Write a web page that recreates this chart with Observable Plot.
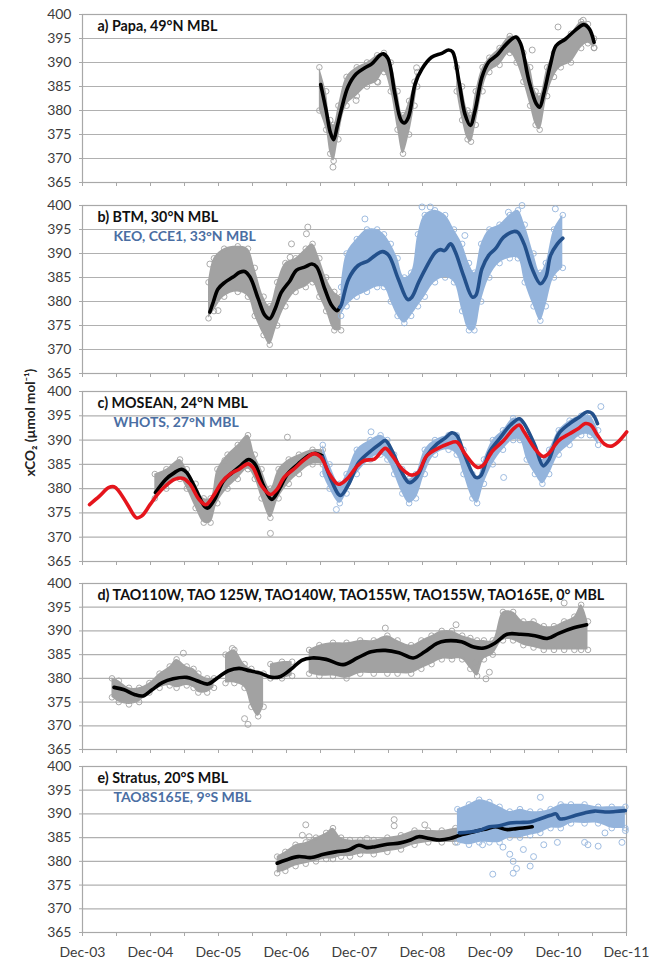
<!DOCTYPE html>
<html><head><meta charset="utf-8">
<script src="https://cdn.jsdelivr.net/npm/d3@7"></script>
<script src="https://cdn.jsdelivr.net/npm/@observablehq/plot@0.6"></script>
<style>body{margin:0;background:#fff;} #chart svg{display:block;}</style>
</head><body><div id="chart"></div>
<script>
// ---------- axis values ----------
const xStart = 2003 + 11 / 12;            // Dec-03
const xTickLabels = ["Dec-03","Dec-04","Dec-05","Dec-06","Dec-07","Dec-08","Dec-09","Dec-10","Dec-11"];
const yTicks = [365, 370, 375, 380, 385, 390, 395, 400];
const yLabelText = "xCO\u2082 (\u00b5mol mol\u207b\u00b9)";

// ---------- panel a: Papa ----------
const papaTitle = "a) Papa, 49\u00b0N MBL";
const papaLine = [[2007.42,385.4],[2007.50,380.0],[2007.56,375.5],[2007.61,373.9],[2007.66,376.5],[2007.72,380.0],[2007.82,384.9],[2007.94,387.6],[2008.07,388.9],[2008.17,389.7],[2008.29,391.5],[2008.34,391.8],[2008.41,390.8],[2008.51,383.5],[2008.60,378.0],[2008.65,377.4],[2008.71,378.6],[2008.81,385.6],[2008.91,388.7],[2009.05,391.1],[2009.20,391.9],[2009.30,392.6],[2009.36,392.2],[2009.45,386.3],[2009.54,379.3],[2009.62,376.9],[2009.69,380.0],[2009.79,386.9],[2009.89,390.1],[2010.01,391.5],[2010.11,393.2],[2010.23,394.9],[2010.29,395.3],[2010.36,393.9],[2010.48,386.3],[2010.59,381.4],[2010.64,380.7],[2010.70,383.5],[2010.80,389.7],[2010.88,393.5],[2011.02,394.9],[2011.17,396.8],[2011.29,397.9],[2011.37,397.0],[2011.44,394.2]];
const papaBands = [
  [[2007.40,380,389],[2007.50,376,384],[2007.56,371,378],[2007.61,369.5,377],[2007.68,374,381],[2007.80,381,387],[2007.95,383,389],[2008.10,385,390],[2008.25,386,391.5],[2008.35,388,392],[2008.45,384,390],[2008.55,376,384],[2008.63,371,379],[2008.72,375,382],[2008.80,381,386],[2008.84,385,388]],
  [[2009.42,384,389],[2009.50,378,385],[2009.58,374,380],[2009.63,373.5,379],[2009.70,377,384],[2009.80,384,389],[2009.90,388,391],[2010.05,389.5,393],[2010.20,392,395.5],[2010.30,390,395],[2010.40,386,392],[2010.50,381,389],[2010.58,377,384],[2010.64,376,383],[2010.75,383,389],[2010.85,387,392],[2010.95,389,394],[2011.10,390,396],[2011.25,393,398.5],[2011.35,394,398],[2011.44,393,395]]
];
const papaOutliers = [[2007.60,368.2],[2008.83,388.9],[2010.53,392.6],[2010.91,397.4],[2011.44,393.1],[2007.94,382.1],[2008.26,385.9],[2011.28,398.8]];

// ---------- panel b: BTM / KEO, CCE1 ----------
const btmTitle = "b) BTM, 30\u00b0N MBL";
const keoTitle = "KEO, CCE1, 33\u00b0N MBL";
const btmLine = [[2005.79,377.8],[2005.84,379.9],[2005.91,382.6],[2006.01,384.0],[2006.13,385.1],[2006.23,386.1],[2006.30,386.25],[2006.38,385.1],[2006.50,380.6],[2006.60,377.1],[2006.67,376.4],[2006.75,378.5],[2006.84,381.9],[2006.97,384.4],[2007.06,386.5],[2007.19,387.2],[2007.29,387.8],[2007.36,387.2],[2007.48,382.6],[2007.58,379.2],[2007.66,378.1],[2007.70,378.8]];
const keoLine = [[2007.70,378.8],[2007.72,379.2],[2007.83,384.7],[2007.97,387.5],[2008.12,388.5],[2008.22,389.6],[2008.33,390.4],[2008.42,389.6],[2008.56,384.7],[2008.70,380.4],[2008.76,380.9],[2008.86,384.0],[2008.96,386.8],[2009.11,390.3],[2009.18,390.8],[2009.24,390.6],[2009.33,392.0],[2009.40,390.3],[2009.52,385.4],[2009.65,380.9],[2009.70,381.25],[2009.79,386.8],[2009.89,389.6],[2009.99,391.0],[2010.11,393.4],[2010.26,394.6],[2010.32,394.4],[2010.41,392.0],[2010.53,386.8],[2010.65,383.7],[2010.73,385.1],[2010.80,389.6],[2010.90,392.0],[2010.98,393.2]];
const btmBand = [[2005.77,376.5,384],[2005.85,378,389],[2006.00,381,391],[2006.20,382,391.5],[2006.35,381,391],[2006.45,377,387],[2006.58,373,381],[2006.67,371,379],[2006.78,375,384],[2006.90,379,388],[2007.05,382,389],[2007.20,383,391],[2007.30,384,392],[2007.40,381,389],[2007.50,378,385],[2007.62,374,382],[2007.72,374,381]];
const keoBand = [[2007.72,377,383],[2007.80,379,390],[2007.95,381,393],[2008.10,382,395],[2008.25,383,395],[2008.35,383,394],[2008.45,380,392],[2008.55,377,389],[2008.65,375.5,385],[2008.75,377,386],[2008.85,379,394],[2008.95,381,398],[2009.10,384,399],[2009.25,385,398],[2009.38,384,395],[2009.50,378,392],[2009.60,374,388],[2009.68,374,386],[2009.78,380,392],[2009.90,385,395],[2010.05,388,396],[2010.20,389,398],[2010.32,389,399],[2010.42,384,396],[2010.55,379,390],[2010.65,376,386],[2010.73,379,388],[2010.85,385,395],[2010.98,387,398]];
const btmOutliers = [[2005.79,387.8],[2005.91,378.1],[2006.99,392.0],[2007.23,395.5],[2007.21,394.1],[2006.97,389.2]];
const keoOutliers = [[2008.91,399.7],[2009.03,399.7],[2010.38,400.0],[2010.87,399.3],[2010.18,398.6],[2008.07,397.2],[2009.54,393.75]];

// ---------- panel c: MOSEAN / WHOTS ----------
const moseanTitle = "c) MOSEAN, 24\u00b0N MBL";
const whotsTitle = "WHOTS, 27\u00b0N MBL";
const mblLine = [[2004.02,376.7],[2004.17,378.5],[2004.30,380.2],[2004.38,380.4],[2004.45,379.5],[2004.58,376.7],[2004.71,374.0],[2004.79,374.4],[2004.91,376.7],[2005.02,378.8],[2005.14,380.6],[2005.27,381.9],[2005.40,382.1],[2005.50,380.9],[2005.63,377.8],[2005.73,376.7],[2005.84,378.5],[2005.96,381.25],[2006.09,383.0],[2006.22,384.0],[2006.35,385.1],[2006.42,384.4],[2006.55,380.6],[2006.68,378.8],[2006.78,379.9],[2006.88,382.3],[2007.04,384.2],[2007.19,386.1],[2007.32,387.2],[2007.42,386.5],[2007.55,383.0],[2007.68,380.9],[2007.80,381.9],[2007.96,384.7],[2008.06,385.8],[2008.21,386.1],[2008.37,388.3],[2008.47,386.8],[2008.62,384.0],[2008.75,382.8],[2008.85,383.3],[2008.98,386.8],[2009.13,388.2],[2009.29,389.2],[2009.42,389.6],[2009.54,387.2],[2009.72,384.4],[2009.80,384.7],[2009.95,387.8],[2010.11,389.9],[2010.26,392.4],[2010.34,393.1],[2010.41,391.7],[2010.57,388.2],[2010.69,386.6],[2010.77,387.2],[2010.92,389.9],[2011.08,391.3],[2011.21,392.4],[2011.31,393.4],[2011.39,393.1],[2011.49,391.0],[2011.59,389.2],[2011.69,388.75],[2011.79,389.6],[2011.92,391.7]];
const moseanLine = [[2004.99,379.2],[2005.14,381.9],[2005.27,383.3],[2005.37,384.0],[2005.45,383.3],[2005.58,379.9],[2005.71,376.4],[2005.76,376.0],[2005.86,377.8],[2005.99,381.6],[2006.12,383.3],[2006.24,384.7],[2006.36,386.0],[2006.45,385.1],[2006.58,380.6],[2006.70,377.8],[2006.81,379.9],[2006.93,383.0],[2007.09,385.1],[2007.24,386.8],[2007.34,387.3],[2007.44,386.8]];
const whotsLine = [[2007.45,386.5],[2007.57,381.9],[2007.71,378.6],[2007.83,380.9],[2007.98,385.4],[2008.16,387.8],[2008.29,389.2],[2008.37,389.9],[2008.47,387.8],[2008.60,383.7],[2008.72,381.25],[2008.83,382.3],[2008.98,386.8],[2009.13,389.2],[2009.24,390.3],[2009.35,391.5],[2009.42,391.0],[2009.54,386.8],[2009.70,382.3],[2009.77,382.6],[2009.90,387.5],[2010.05,390.3],[2010.21,393.1],[2010.34,394.4],[2010.41,393.4],[2010.57,388.9],[2010.69,384.7],[2010.77,385.8],[2010.92,391.3],[2011.08,393.4],[2011.23,394.8],[2011.33,395.8],[2011.41,395.5],[2011.49,393.4]];
const moseanBand = [[2004.98,378,383],[2005.15,380,384],[2005.35,382,386],[2005.45,380,384],[2005.58,376,381],[2005.70,373,378],[2005.80,373,378],[2005.90,377,384],[2006.05,380,387],[2006.20,382,389],[2006.35,384,391],[2006.45,382,387],[2006.55,378,384],[2006.68,374,380],[2006.80,378,384],[2006.95,381,386],[2007.10,383,387],[2007.30,385,388],[2007.45,385,388]];
const whotsBand = [[2007.45,383,389],[2007.55,380,385],[2007.70,377,381],[2007.80,379,383],[2007.95,383,388],[2008.15,386,390],[2008.30,387,391],[2008.40,386,390],[2008.50,383,387],[2008.62,379,384],[2008.72,377,382],[2008.82,378,383],[2008.95,383,388],[2009.10,387,390],[2009.30,388,391],[2009.42,387,391],[2009.52,383,388],[2009.65,378,383],[2009.72,377,382],[2009.82,381,386],[2009.95,385,390],[2010.10,388,392],[2010.25,390,394.5],[2010.35,390,394],[2010.45,386,391],[2010.57,383,388],[2010.68,381,386],[2010.78,383,388],[2010.92,387,392],[2011.08,389,394],[2011.25,391,395],[2011.38,391,395],[2011.50,389,392]];
const moseanOutliers = [[2006.68,370.8],[2006.01,385.8],[2006.93,390.6]];
const whotsOutliers = [[2010.11,382.3],[2011.54,396.9],[2008.16,391.7],[2007.65,375.7]];

// ---------- panel d: TAO equatorial ----------
const taoTitle = "d) TAO110W, TAO 125W, TAO140W, TAO155W, TAO155W, TAO165E, 0\u00b0 MBL";
const taoLine = [[2004.38,378.1],[2004.53,377.6],[2004.68,376.6],[2004.81,376.3],[2004.94,377.6],[2005.09,379.1],[2005.25,379.9],[2005.45,380.2],[2005.60,379.5],[2005.76,378.8],[2005.91,380.2],[2006.06,381.6],[2006.22,382.1],[2006.37,381.6],[2006.53,381.1],[2006.70,380.2],[2006.83,380.4],[2006.99,382.0],[2007.14,383.8],[2007.29,384.3],[2007.50,384.0],[2007.75,382.9],[2007.96,384.3],[2008.16,385.6],[2008.37,385.9],[2008.57,385.4],[2008.78,384.3],[2008.95,385.6],[2009.13,387.4],[2009.26,387.9],[2009.49,387.7],[2009.67,386.6],[2009.82,386.4],[2009.98,387.4],[2010.16,389.3],[2010.36,389.3],[2010.57,389.0],[2010.75,388.4],[2010.92,389.5],[2011.13,390.6],[2011.33,391.3]];
const taoBands = [
  [[2004.35,376,380],[2004.45,375,379.5],[2004.60,374.5,378],[2004.75,375,378],[2004.90,377,379],[2005.05,378,381],[2005.20,378.5,382.5],[2005.30,378,384],[2005.45,378.5,382.5],[2005.55,378,382],[2005.62,377,381],[2005.75,377,380],[2005.85,378,380]],
  [[2006.02,379,385],[2006.15,379,386],[2006.30,378,383],[2006.40,374,382],[2006.50,372,381],[2006.58,374,381]],
  [[2006.68,380,383],[2006.85,380,383.5],[2007.00,380.5,383.5]],
  [[2007.25,381,386],[2007.40,380.5,387],[2007.60,380.5,387.5],[2007.80,380,387.5],[2008.00,381,388],[2008.20,381,388],[2008.40,381,389],[2008.55,381,388],[2008.75,381,387],[2008.90,382,388],[2009.05,383,389],[2009.20,384,390],[2009.35,384,390],[2009.50,384,389],[2009.62,382,388.5],[2009.72,380.5,388],[2009.82,384,388],[2009.95,385,388],[2010.10,388,394],[2010.25,388,394],[2010.40,387,392],[2010.55,386.5,392],[2010.70,386,391],[2010.85,386,391],[2011.00,386,392],[2011.15,386,393],[2011.25,386,395.5],[2011.35,386,392]]
];
const taoOutliers = [[2006.35,370.3],[2006.30,371.5],[2005.40,385.3],[2006.12,386.3],[2011.00,395.9],[2009.41,391.3],[2008.37,390.6],[2009.85,379.9],[2009.90,381.3],[2009.70,383.4]];

// ---------- panel e: Stratus / TAO8S165E ----------
const stratusTitle = "e) Stratus, 20\u00b0S MBL";
const tao8sTitle = "TAO8S165E, 9\u00b0S MBL";
const stratusLine = [[2006.78,379.6],[2006.91,380.3],[2007.09,381.0],[2007.28,380.8],[2007.46,381.5],[2007.64,382.0],[2007.83,382.4],[2007.98,383.4],[2008.10,382.9],[2008.22,383.1],[2008.40,383.6],[2008.59,383.9],[2008.74,384.5],[2008.86,385.2],[2009.02,384.8],[2009.17,384.5],[2009.32,384.8],[2009.47,385.5],[2009.66,386.2],[2009.87,386.9],[2009.99,387.3],[2010.15,386.7],[2010.30,386.9],[2010.53,387.3]];
const tao8sLine = [[2009.46,386.0],[2009.60,386.2],[2009.75,386.5],[2009.90,387.3],[2010.05,387.5],[2010.20,388.1],[2010.35,388.2],[2010.50,388.3],[2010.65,389.0],[2010.80,389.7],[2010.88,390.0],[2010.93,389.0],[2011.00,389.0],[2011.15,389.6],[2011.30,390.2],[2011.45,390.6],[2011.60,390.4],[2011.75,390.5],[2011.90,390.7]];
const stratusBand = [[2006.78,377.5,381],[2006.90,378,382],[2007.05,379,383.5],[2007.20,379.5,384],[2007.35,380,385],[2007.50,380.5,386],[2007.60,380.5,387],[2007.72,381,385],[2007.85,381,384.5],[2008.00,381.5,384.5],[2008.20,381.5,384.5],[2008.40,382,385],[2008.60,382.5,385.5],[2008.80,383.5,386.5],[2009.00,384,386.5],[2009.20,384,386.5],[2009.40,384,387],[2009.55,384.5,387]];
const tao8sBand = [[2009.43,384,391],[2009.60,383.5,392],[2009.75,384,393],[2009.90,384,392.5],[2010.05,384,391.5],[2010.20,385,390.5],[2010.35,385,391],[2010.50,385.5,390.5],[2010.65,386,390.5],[2010.80,387,391],[2010.95,387,392],[2011.10,388,392],[2011.30,388,392],[2011.50,388,391.5],[2011.70,387,391.5],[2011.90,387,391.5]];
const stratusOutliers = [[2007.20,387.7],[2007.15,385.5],[2007.25,385.2],[2008.50,388.8],[2008.50,387.5],[2008.10,384.8],[2008.95,387.7]];
const tao8sOutliers = [[2009.95,377.3],[2010.25,377.5],[2010.30,378.5],[2010.25,380.0],[2010.20,381.5],[2010.50,379.0],[2010.55,381.0],[2010.70,383.5],[2010.90,384.0],[2011.30,384.0],[2011.35,383.5],[2011.50,383.2],[2011.60,386.0],[2011.85,384.0],[2011.90,386.5],[2010.10,383.0],[2010.40,382.5],[2010.65,393.5],[2009.80,383.5]];

// ---------- styles ----------
const grey = "#a2a2a2", lightBlue = "#94b4dc", darkBlue = "#23508b", red = "#e5151c", subBlue = "#4a6ea3";
const FONT = "Lato, 'Open Sans', sans-serif";

const xTickVals = d3.range(0, 17).map(k => xStart + k / 2);
function xLabel(t) {
  const k = Math.round((t - xStart) * 2);
  return k % 2 === 0 ? xTickLabels[k / 2] : "";
}
const pts = arr => arr.map(([x, y]) => ({x, y}));
function bandRows(segs) {
  return segs.flatMap((seg, i) => seg.map(([x, lo, hi]) => ({x, lo, hi, seg: i})));
}
function cloud(segs, color) {
  const rows = bandRows(segs);
  return [
    Plot.areaY(rows, {x: "x", y1: "lo", y2: "hi", z: "seg", fill: color, curve: "catmull-rom"}),
    Plot.dot(rows, {x: "x", y: "lo", r: 2.8, stroke: color, strokeWidth: 0.9, fill: "none"}),
    Plot.dot(rows, {x: "x", y: "hi", r: 2.8, stroke: color, strokeWidth: 0.9, fill: "none"})
  ];
}
const outl = (arr, color) => Plot.dot(pts(arr), {x: "x", y: "y", r: 3, stroke: color, strokeWidth: 0.9, fill: "none"});
const line = (arr, color, w = 3.6) => Plot.line(pts(arr), {x: "x", y: "y", stroke: color, strokeWidth: w, curve: "catmull-rom"});

function panel({marks, title, subtitle, mt, ph, mb, xLabels, yLabel}) {
  const m = [
    Plot.gridY(yTicks, {stroke: "#b0b0b0", strokeOpacity: 1, strokeWidth: 1.2}),
    Plot.frame({stroke: "#a8a8a8", strokeWidth: 1.2}),
    ...marks,
    Plot.axisY({ticks: yTicks, tickSize: 3, tickPadding: 8, stroke: "#a8a8a8", fill: "#3c3c3c", fontSize: 14, label: null}),
    Plot.axisX({ticks: xTickVals, tickSize: 4, tickPadding: 11, stroke: "#a8a8a8", fill: "#3c3c3c", fontSize: 14, label: null,
      tickFormat: xLabels ? xLabel : () => ""}),
    Plot.text([title], {frameAnchor: "top-left", dx: 15, dy: 12, lineAnchor: "middle", textAnchor: "start",
      fontWeight: "bold", fontSize: 14.3, fill: "#111"})
  ];
  if (subtitle) m.push(Plot.text([subtitle], {frameAnchor: "top-left", dx: 31, dy: 31, lineAnchor: "middle", textAnchor: "start",
      fontWeight: "bold", fontSize: 14, fill: subBlue}));
  if (yLabel) m.push(Plot.text([yLabel], {frameAnchor: "left", dx: -52, rotate: -90, fontWeight: "bold", fontSize: 13.5, fill: "#222"}));
  return Plot.plot({
    width: 649, height: mt + ph + mb, marginTop: mt, marginBottom: mb, marginLeft: 82, marginRight: 23,
    style: {fontFamily: FONT, background: "#fff", overflow: "visible"},
    x: {domain: [xStart, xStart + 8]},
    y: {domain: [365, 400]},
    marks: m
  });
}

const chart = document.getElementById("chart");
chart.append(panel({
  title: papaTitle, mt: 14, ph: 168, mb: 10,
  marks: [...cloud(papaBands, grey), outl(papaOutliers, grey), line(papaLine, "#000")]
}));
chart.append(panel({
  title: btmTitle, subtitle: keoTitle, mt: 13, ph: 168, mb: 8,
  marks: [...cloud([btmBand], grey), outl(btmOutliers, grey), ...cloud([keoBand], lightBlue), outl(keoOutliers, lightBlue),
          line(btmLine, "#000"), line(keoLine, darkBlue)]
}));
chart.append(panel({
  title: moseanTitle, subtitle: whotsTitle, mt: 10, ph: 170, mb: 12, yLabel: yLabelText,
  marks: [...cloud([moseanBand], grey), outl(moseanOutliers, grey), ...cloud([whotsBand], lightBlue), outl(whotsOutliers, lightBlue),
          line(moseanLine, "#000"), line(whotsLine, darkBlue), line(mblLine, red)]
}));
chart.append(panel({
  title: taoTitle, mt: 10, ph: 166, mb: 7,
  marks: [...cloud(taoBands, grey), outl(taoOutliers, grey), line(taoLine, "#000")]
}));
chart.append(panel({
  title: stratusTitle, subtitle: tao8sTitle, mt: 10, ph: 166, mb: 30, xLabels: true,
  marks: [...cloud([stratusBand], grey), outl(stratusOutliers, grey), ...cloud([tao8sBand], lightBlue), outl(tao8sOutliers, lightBlue),
          line(stratusLine, "#000"), line(tao8sLine, darkBlue)]
}));
</script></body></html>
